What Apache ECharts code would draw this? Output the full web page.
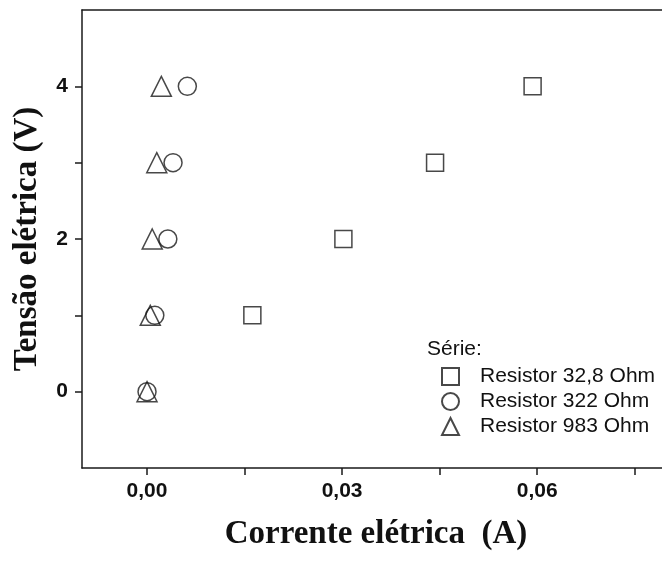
<!DOCTYPE html>
<html>
<head>
<meta charset="utf-8">
<script src="https://cdn.jsdelivr.net/npm/echarts@6/dist/echarts.min.js"></script>
<style>
html,body{margin:0;padding:0;background:#fff;overflow:hidden;}
#chart{width:662px;height:561px;}
</style>
</head>
<body>
<div id="chart"></div>
<script>
// Data
var seriesNames = ['Resistor 32,8 Ohm', 'Resistor 322 Ohm', 'Resistor 983 Ohm'];
var voltage = [0, 1, 2, 3, 4];
var currentR32 = [null, 0.0162, 0.0302, 0.0443, 0.0593];
var currentR322 = [0, 0.0012, 0.0032, 0.0040, 0.0062];
var currentR983 = [0, 0.0005, 0.0008, 0.0015, 0.0022];
var xTickValues = [0, 0.015, 0.03, 0.045, 0.06, 0.075];
var xLabelValues = [0, 0.03, 0.06];
var yTickValues = [0, 1, 2, 3, 4];
var yLabelValues = [0, 2, 4];

function pairs(xs, ys) {
  var out = [];
  for (var i = 0; i < xs.length; i++) {
    if (xs[i] !== null) out.push([xs[i], ys[i]]);
  }
  return out;
}

var chart = echarts.init(document.getElementById('chart'), null, {renderer: 'canvas'});
var lineCol = '#1a1a1a';
var markerStyle = {color: '#fff', borderColor: lineCol, borderWidth: 1.5};
var tickFont = {fontFamily: 'Liberation Sans, Arial', fontWeight: 'bold', fontSize: 21, color: '#111'};

var option = {
  backgroundColor: '#fff',
  animation: false,
  grid: {left: 82, top: 10, right: 0, bottom: 93, show: false},
  title: {
    text: 'Série:', left: 427, top: 339, padding: 0,
    textStyle: {fontFamily: 'Liberation Sans, Arial', fontWeight: 'normal', fontSize: 21, color: '#111'}
  },
  legend: {
    orient: 'vertical', left: 441, top: 366, padding: 0, itemGap: 4, itemWidth: 17, itemHeight: 17,
    data: seriesNames,
    textStyle: {fontFamily: 'Liberation Sans, Arial', fontSize: 21, color: '#111', padding: [0, 0, 0, 16]}
  },
  xAxis: [{
    type: 'value', min: -0.01, max: 0.0792, position: 'bottom',
    name: 'Corrente elétrica  (A)', nameLocation: 'middle', nameGap: 50,
    nameTextStyle: {fontFamily: 'Liberation Serif, Times New Roman', fontWeight: 'bold', fontSize: 33, color: '#111', padding: [0, 0, 0, 8]},
    axisLine: {show: true, onZero: false, lineStyle: {color: lineCol, width: 1.5}},
    axisTick: {show: true, inside: false, length: 7, customValues: xTickValues, lineStyle: {color: lineCol, width: 1.5}},
    axisLabel: Object.assign({
      customValues: xLabelValues, margin: 13,
      formatter: function (v) { return v.toFixed(2).replace('.', ','); }
    }, tickFont),
    splitLine: {show: false}
  }, {
    type: 'value', min: -0.01, max: 0.0792, position: 'top',
    axisLine: {show: true, onZero: false, lineStyle: {color: lineCol, width: 1.5}},
    axisTick: {show: false}, axisLabel: {show: false}, splitLine: {show: false}
  }],
  yAxis: {
    type: 'value', min: -1, max: 5,
    name: 'Tensão elétrica (V)', nameLocation: 'middle', nameGap: 38,
    nameTextStyle: {fontFamily: 'Liberation Serif, Times New Roman', fontWeight: 'bold', fontSize: 33, color: '#111'},
    axisLine: {show: true, onZero: false, lineStyle: {color: lineCol, width: 1.5}},
    axisTick: {show: true, inside: false, length: 7, customValues: yTickValues, lineStyle: {color: lineCol, width: 1.5}},
    axisLabel: Object.assign({customValues: yLabelValues, margin: 14}, tickFont),
    splitLine: {show: false}
  },
  series: [
    {name: seriesNames[0], type: 'scatter', symbol: 'rect', symbolSize: 17, itemStyle: markerStyle, data: pairs(currentR32, voltage)},
    {name: seriesNames[1], type: 'scatter', symbol: 'circle', symbolSize: 18, itemStyle: markerStyle, data: pairs(currentR322, voltage)},
    {name: seriesNames[2], type: 'scatter', symbol: 'triangle', symbolSize: 20, itemStyle: {color: 'rgba(255,255,255,0)', borderColor: lineCol, borderWidth: 1.5}, data: pairs(currentR983, voltage)}
  ]
};
chart.setOption(option);
</script>
</body>
</html>
